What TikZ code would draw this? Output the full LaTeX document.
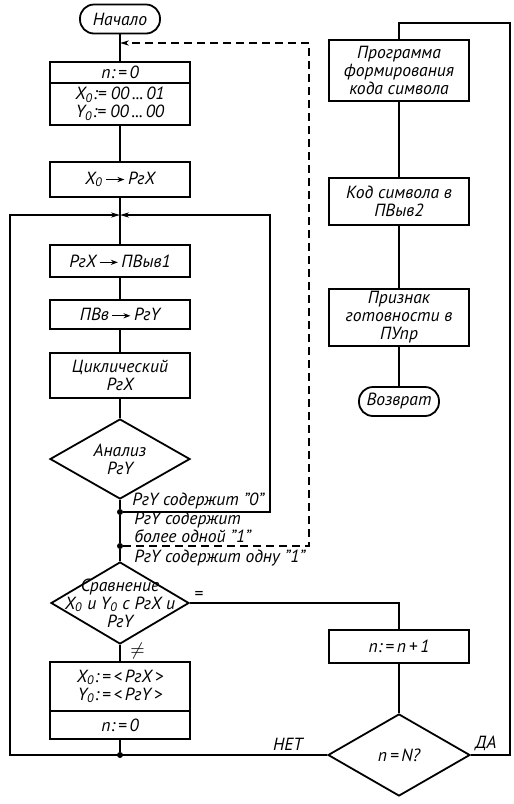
\documentclass[tikz,border=0pt]{standalone}
\usepackage{fontspec}
\setmainfont{PT Sans}
\usetikzlibrary{arrows.meta, positioning, shapes.geometric, calc}
\tikzset{>={Stealth[length=4.5pt,width=2.6pt]}}
\tikzset{
  block/.style={rectangle, draw=black, line width=0.9pt, align=center, minimum width=70pt, inner sep=1pt, outer sep=0pt},
  term/.style={rectangle, rounded corners=7pt, draw=black, line width=0.9pt, minimum width=40pt, minimum height=14.5pt, inner sep=1pt},
  decision/.style={diamond, draw=black, line width=0.9pt, aspect=1.75, inner sep=0pt, align=center},
  line/.style={line width=0.9pt},
  tag/.style={inner sep=1pt, align=left},
  dot/.style={circle, fill=black, inner sep=0pt, minimum size=3pt}
}
\newcommand{\toarrow}{\,\tikz[baseline=-0.55ex]\draw[-{Stealth[length=3.5pt,width=2.6pt]}, line width=0.7pt] (0,0) -- (9pt,0);\,}

\begin{document}
\begin{tikzpicture}[
  x=0.5pt, y=-0.5pt,
  every node/.style={font=\itshape\fontsize{8.8}{9}\selectfont}
]
\useasboundingbox (0,0) rectangle (514,804);

% left column
\node[term] (start) at (120,19) {Начало};
\node[block, minimum height=10.5pt] (init0) at (120,72.5) {n:\,=\,0};
\node[block, minimum height=21pt, below=0pt of init0] (init1) {X\textsubscript{0}:= 00\,...\,01\\Y\textsubscript{0}:= 00\,...\,00};
\node[block, minimum height=17.5pt] (load) at (120,179.5) {X\textsubscript{0}\toarrow РгX};
\node[block, minimum height=16pt] (out1) at (120,261) {РгX\toarrow ПВыв1};
\node[block, minimum height=14.5pt] (inp) at (120,314.5) {ПВв\toarrow РгY};
\node[block, minimum height=22.5pt] (cyc) at (120,375.5) {Циклический\\РгX};
\node[decision, minimum width=70pt, minimum height=40pt] (ana) at (120,459) {Анализ\\РгY};
\node[decision, minimum width=69pt, minimum height=41pt] (cmp) at (120,603) {};
\node[align=center] (cmptext) at (cmp) {Сравнение\\X\textsubscript{0} и Y\textsubscript{0} с РгX и\\РгY};
\node[block, minimum height=24.5pt] (upd0) at (120,686.5) {X\textsubscript{0}:\,=\,<\,РгX\,>\\Y\textsubscript{0}:\,=\,<\,РгY\,>};
\node[block, minimum height=14pt, below=0pt of upd0] (upd1) {n:\,=\,0};

% right column
\node[block, minimum height=30.5pt] (prog) at (399,70.5) {Программа\\формирования\\кода символа};
\node[block, minimum height=23.5pt] (code) at (399,201.5) {Код символа в\\ПВыв2};
\node[block, minimum height=28.5pt] (ready) at (399,317.5) {Признак\\готовности в\\ПУпр};
\node[term] (ret) at (399,401.5) {Возврат};
\node[block, minimum height=16.5pt] (inc) at (399,646.5) {n:\,=\,n\,+\,1};
\node[decision, minimum width=71pt, minimum height=41pt] (test) at (399,755) {n\,=\,N?};

% branch points
\coordinate (join) at (120,215);
\coordinate (entry) at (120,43);
\coordinate (loopL) at (10,215);
\coordinate (loopR) at (270,215);
\coordinate (dashR) at (309,43);
\coordinate (topR) at (510,23);
\node[dot] (z0) at (120,512) {};
\node[dot] (z1) at (120,546) {};
\node[dot] (z2) at (120,755) {};

% connectors
\draw[line] (start) -- (init0);
\draw[line] (init1) -- (load);
\draw[line] (load) -- (out1);
\draw[line] (out1) -- (inp);
\draw[line] (inp) -- (cyc);
\draw[line] (cyc) -- (ana);
\draw[line] (ana) -- (z0) -- (z1) -- (cmp);
\draw[line, ->] (z0) -| (loopR) -- (join);
\draw[line, dashed, dash pattern=on 4pt off 2.5pt, ->] (z1) -| (dashR) -- (entry);
\draw[line] (cmp.east) -| (inc);
\draw[line] (cmp) -- (upd0);
\draw[line] (upd1) -- (z2);
\draw[line] (inc) -- (test);
\draw[line, ->] (test.west) -| (loopL) -- (join);
\draw[line] (test.east) -| (topR) -| (prog);
\draw[line] (prog) -- (code);
\draw[line] (code) -- (ready);
\draw[line] (ready) -- (ret);

% labels
\node[tag, anchor=south west] (lzero) at ($(z0)+(10,-1)$) {РгY содержит ”0”};
\node[tag, anchor=south west] (lmany) at ($(z1)+(12,-1)$) {РгY содержит\\более одной ”1”};
\node[tag, anchor=north west] (lone) at ($(z1)+(12,2)$) {РгY содержит одну ”1”};
\node[tag, anchor=south west] (leq) at ($(cmp.east)+(2,-1)$) {=};
\node[tag, anchor=west] (lneq) at ($(cmp.south)+(8,6)$) {$\neq$};
\node[tag, anchor=south east] (lno) at ($(test.west)+(-22,-2)$) {НЕТ};
\node[tag, anchor=south west] (lyes) at ($(test.east)+(2,-2)$) {ДА};

\end{tikzpicture}
\end{document}
